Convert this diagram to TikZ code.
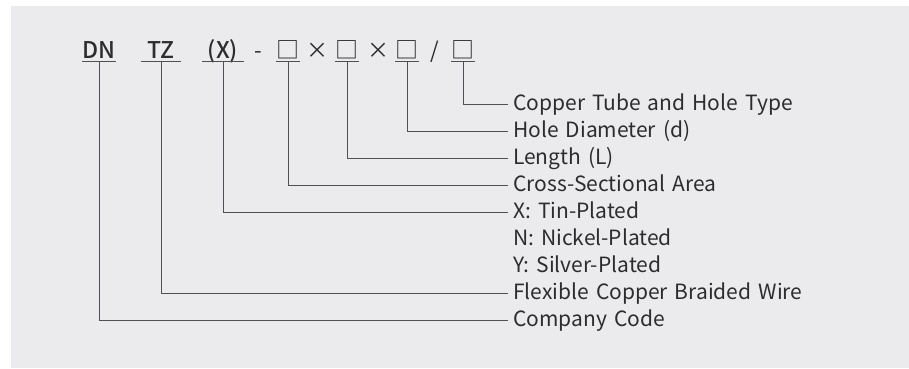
\documentclass[tikz,border=0pt]{standalone}
\usepackage{fontspec}
\setmainfont{Noto Sans CJK SC}
\newfontfamily\codefont{Noto Sans CJK SC Medium}
\usetikzlibrary{positioning}
\definecolor{bgcolor}{RGB}{235,235,238}
\definecolor{inkcolor}{RGB}{45,45,48}
\definecolor{wirecolor}{RGB}{80,80,84}

\begin{document}
\begin{tikzpicture}[x=1pt,y=-1pt,
  codebox/.style={
    font=\fontsize{23}{23}\codefont,
    text=inkcolor,
    inner xsep=0pt,
    inner ysep=0pt,
    text height=17pt,
    text depth=3pt,
    anchor=base
  },
  sepbox/.style={
    font=\fontsize{22}{22}\selectfont,
    text=inkcolor,
    inner sep=0pt,
    anchor=base
  },
  labelbox/.style={
    font=\fontsize{21}{21}\selectfont,
    text=inkcolor,
    text width=330pt,
    align=left,
    inner xsep=5pt,
    inner ysep=0pt,
    text height=16pt,
    text depth=4pt,
    minimum height=26.6pt
  },
  leader/.style={
    draw=wirecolor,
    line width=0.9pt
  },
  node distance=0pt
  ]

  \useasboundingbox (0,0) rectangle (909,368);
  \fill[bgcolor] (11,6) rectangle (909,368);

  % code line
  \node[codebox, minimum width=34pt] (dn) at (99,58) {DN};
  \node[codebox, minimum width=39pt] (tz) at (161,58) {TZ};
  \node[codebox, minimum width=41pt] (px) at (223,58) {(X)};
  \node[sepbox] (dash) at (258,58) {-};
  \node[codebox, minimum width=23pt] (area) at (288,58) {□};
  \node[sepbox] (times1) at (317,58) {×};
  \node[codebox, minimum width=23pt] (len) at (347,58) {□};
  \node[sepbox] (times2) at (378,58) {×};
  \node[codebox, minimum width=23pt] (dia) at (407,58) {□};
  \node[sepbox] (slash) at (435,58) {/};
  \node[codebox, minimum width=23pt] (tube) at (463,58) {□};

  \foreach \n in {dn,tz,px,area,len,dia,tube}
    \draw[leader] (\n.south west) -- (\n.south east);

  % labels
  \node[labelbox, anchor=west] (tubelbl) at (508,104) {Copper Tube and Hole Type};
  \node[labelbox, below=of tubelbl] (dialbl) {Hole Diameter (d)};
  \node[labelbox, below=of dialbl] (lenlbl) {Length (L)};
  \node[labelbox, below=of lenlbl] (arealbl) {Cross-Sectional Area};
  \node[labelbox, below=of arealbl] (tinlbl) {X: Tin-Plated};
  \node[labelbox, below=of tinlbl] (nickellbl) {N: Nickel-Plated};
  \node[labelbox, below=of nickellbl] (silverlbl) {Y: Silver-Plated};
  \node[labelbox, below=of silverlbl] (wirelbl) {Flexible Copper Braided Wire};
  \node[labelbox, below=of wirelbl] (companylbl) {Company Code};

  \draw[leader] (tube.south) |- (tubelbl.west);
  \draw[leader] (dia.south) |- (dialbl.west);
  \draw[leader] (len.south) |- (lenlbl.west);
  \draw[leader] (area.south) |- (arealbl.west);
  \draw[leader] (px.south) |- (tinlbl.west);
  \draw[leader] (tz.south) |- (wirelbl.west);
  \draw[leader] (dn.south) |- (companylbl.west);

\end{tikzpicture}
\end{document}
